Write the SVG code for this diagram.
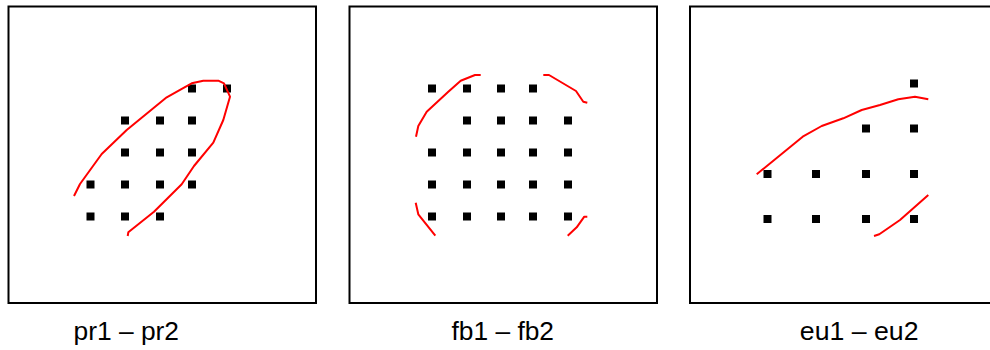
<svg xmlns="http://www.w3.org/2000/svg" width="990" height="350" viewBox="0 0 990 350">
<defs>
<style>
.frame{fill:#fff;stroke:#000;stroke-width:2}
.pt{fill:#000}
.curve{fill:none;stroke:#f00;stroke-width:2;stroke-linejoin:round;stroke-linecap:butt}
.lbl{font-family:"Liberation Sans",Arial,sans-serif;font-size:25px;fill:#000}
</style>
<rect id="sq" x="-4" y="-4" width="8" height="8"/>
</defs>
<rect width="990" height="350" fill="#fff"/>
<g id="panel-pr">
<rect class="frame" x="8.5" y="6.5" width="307.5" height="296.5"/>
<g class="pt">
<use href="#sq" x="192" y="88.5"/><use href="#sq" x="227" y="88.5"/>
<use href="#sq" x="125" y="120.5"/><use href="#sq" x="160" y="120.5"/><use href="#sq" x="192" y="120.5"/>
<use href="#sq" x="125" y="152.5"/><use href="#sq" x="160" y="152.5"/><use href="#sq" x="192" y="152.5"/>
<use href="#sq" x="90.5" y="184.5"/><use href="#sq" x="125" y="184.5"/><use href="#sq" x="160" y="184.5"/><use href="#sq" x="192" y="184.5"/>
<use href="#sq" x="90.5" y="216.5"/><use href="#sq" x="125" y="216.5"/><use href="#sq" x="160" y="216.5"/>
</g>
<polyline class="curve" points="74,196 80,184 101.7,154 126.7,130 166.7,97.3 182.7,88.3 191.7,83.3 203.3,80.7 218.3,80.7 224,83.3 230,96.7 223.3,120 213.3,142.7 194,166 181.7,184.3 154,211.7 128.3,232.3 127.7,236"/>
<text class="lbl" x="73.5" y="340" textLength="105.5" lengthAdjust="spacingAndGlyphs">pr1 – pr2</text>
</g>
<g id="panel-fb">
<rect class="frame" x="349.5" y="6.5" width="307.5" height="296.5"/>
<g class="pt">
<use href="#sq" x="432" y="88.5"/><use href="#sq" x="467" y="88.5"/><use href="#sq" x="501" y="88.5"/><use href="#sq" x="533" y="88.5"/>
<use href="#sq" x="467" y="120.5"/><use href="#sq" x="501" y="120.5"/><use href="#sq" x="533" y="120.5"/><use href="#sq" x="568" y="120.5"/>
<use href="#sq" x="432" y="152.5"/><use href="#sq" x="467" y="152.5"/><use href="#sq" x="501" y="152.5"/><use href="#sq" x="533" y="152.5"/><use href="#sq" x="568" y="152.5"/>
<use href="#sq" x="432" y="184.5"/><use href="#sq" x="467" y="184.5"/><use href="#sq" x="501" y="184.5"/><use href="#sq" x="533" y="184.5"/><use href="#sq" x="568" y="184.5"/>
<use href="#sq" x="432" y="216.5"/><use href="#sq" x="467" y="216.5"/><use href="#sq" x="501" y="216.5"/><use href="#sq" x="533" y="216.5"/><use href="#sq" x="568" y="216.5"/>
</g>
<polyline class="curve" points="416,136.7 418.3,126 426.7,111.7 448.3,91.7 460.7,80.7 475,75 480.7,75"/>
<polyline class="curve" points="543.3,75 549,75 576,91 583.3,101.7 587.3,102.7"/>
<polyline class="curve" points="415.7,202.7 418.3,214.3 435.3,235.7"/>
<polyline class="curve" points="567.7,235.7 576.7,227.3 584.3,216.7 587.3,216.7"/>
<text class="lbl" x="451.5" y="340" textLength="102.5" lengthAdjust="spacingAndGlyphs">fb1 – fb2</text>
</g>
<g id="panel-eu">
<rect class="frame" x="690" y="6.5" width="307.5" height="296.5"/>
<g class="pt">
<use href="#sq" x="914" y="83.5"/>
<use href="#sq" x="866" y="128.5"/><use href="#sq" x="914" y="128.5"/>
<use href="#sq" x="767.5" y="174"/><use href="#sq" x="816" y="174"/><use href="#sq" x="866" y="174"/><use href="#sq" x="914" y="174"/>
<use href="#sq" x="767.5" y="219"/><use href="#sq" x="816" y="219"/><use href="#sq" x="866" y="219"/><use href="#sq" x="914" y="219"/>
</g>
<polyline class="curve" points="756.7,174.3 802.7,136.7 821.7,126 843.3,118.3 861.7,110 880,105 898.3,99.3 915,96.7 928.3,99.3"/>
<polyline class="curve" points="874,236 879.3,234.3 900,220 928.3,195"/>
<text class="lbl" x="799.8" y="340" textLength="118.7" lengthAdjust="spacingAndGlyphs">eu1 – eu2</text>
</g>
</svg>
